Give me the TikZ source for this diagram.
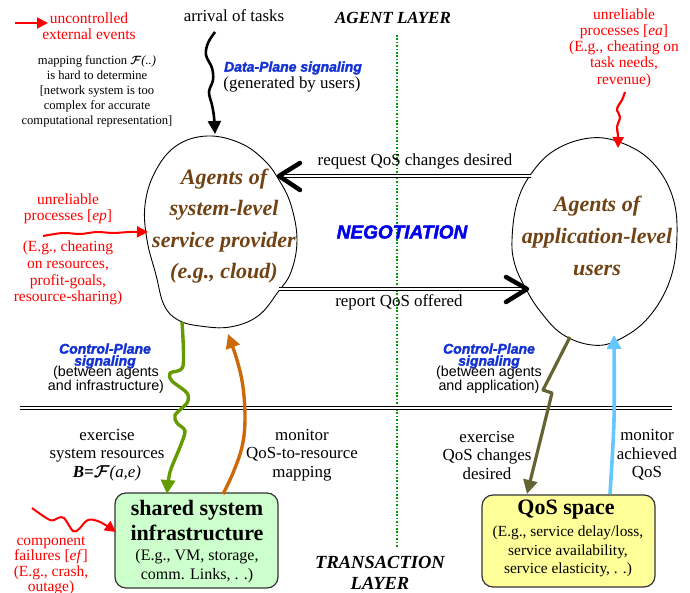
\documentclass[tikz,border=0pt]{standalone}
\usepackage{amsmath}
\usepackage{fontspec}
\setmainfont{Liberation Serif}
\setsansfont{Liberation Sans}
\newfontfamily\heavysans{Liberation Sans Bold Italic}[FakeBold=2]
\usetikzlibrary{arrows.meta}
\definecolor{agentbrown}{RGB}{112,66,20}
\definecolor{sigblue}{RGB}{20,50,210}
\definecolor{negblue}{RGB}{0,0,235}
\definecolor{ctlgreen}{RGB}{100,155,0}
\definecolor{monorange}{RGB}{205,105,10}
\definecolor{olivearrow}{RGB}{100,100,50}
\definecolor{skyarrow}{RGB}{100,200,255}
\definecolor{boxgreen}{RGB}{204,255,204}
\definecolor{boxyellow}{RGB}{255,255,153}
\definecolor{dotgreen}{RGB}{0,150,0}
\newcommand{\myfs}[2]{\fontsize{#1}{#2}\selectfont}
\newcommand{\scrF}{$\boldsymbol{\mathcal{F}}$}
\begin{document}
\begin{tikzpicture}[x=1pt,y=-1pt,
  lbl/.style={align=center,inner sep=0pt,font=\myfs{16.9}{18.5}},
  smalllbl/.style={align=center,inner sep=0pt,font=\myfs{12.6}{15}},
  redlbl/.style={align=center,inner sep=0pt,text=red,font=\myfs{15.5}{16.3}},
  agenttxt/.style={align=center,inner sep=0pt,text=agentbrown,font=\myfs{22}{31.5}\bfseries\itshape},
  layertxt/.style={align=center,inner sep=0pt,font=\myfs{18.5}{21}\bfseries\itshape},
  sigtitle/.style={align=center,inner sep=0pt,text=sigblue,font=\myfs{14}{12}\heavysans},
  sigsub/.style={align=center,inner sep=0pt,font=\myfs{14.3}{12}\sffamily},
  blob/.style={draw=black,line width=0.9pt},
  dbl/.style={draw=black,double=white,double distance=1.6pt,line width=1.1pt},
  chev/.style={draw=black,line width=4.5pt,line cap=round,line join=round},
  redarrow/.style={draw=red,line width=2pt,-{Triangle[length=11pt,width=11pt]}},
  boxstyle/.style={draw=black!80,line width=1.2pt,rounded corners=11pt,inner sep=0pt},
  boxtitle/.style={align=center,inner sep=0pt,font=\myfs{22}{25}\bfseries},
  boxsub/.style={align=center,inner sep=0pt,font=\myfs{16}{18.5}}
]
\useasboundingbox (0,0) rectangle (690,593);

% ---------------- layer separators ----------------
\coordinate (dotTop) at (397,35);
\coordinate (dotBot) at (397,548);
\draw[dotgreen,line width=1.6pt,dash pattern=on 1.6pt off 1.8pt] (dotTop) -- (dotBot);
\coordinate (sepL) at (20,408);
\coordinate (sepR) at (672,408);
\draw[dbl,line width=1pt] (sepL) -- (sepR);

% ---------------- top-left texts ----------------
\coordinate (ueA) at (15,23);
\coordinate (ueB) at (48,23);
\draw[redarrow] (ueA) -- (ueB);
\node[redlbl] (uncontrolled) at (89,26) {uncontrolled\\external events};
\node[smalllbl] (mapping) at (97,91) {mapping function \scrF\textit{(..)}\\is hard to determine\\{[network system is too}\\complex for accurate\\computational representation]};

\node[lbl,anchor=center] (arrival) at (234,16) {arrival of tasks};
\node[layertxt,font=\myfs{17}{20}\bfseries\itshape] (agentlayer) at (393,18) {AGENT LAYER};
\node[sigtitle] (dataplane) at (293,68) {Data-Plane signaling};
\node[lbl] (generated) at (292,84) {(generated by users)};

% ---------------- top-right red ----------------
\node[redlbl,font=\myfs{15.5}{16.2}] (ea) at (624,48) {unreliable\\processes [\textit{ea}]\\(E.g., cheating on\\task needs,\\revenue)};

% ---------------- blobs ----------------
\draw[blob] plot[smooth cycle,tension=0.65] coordinates {
 (207,136) (240,143) (264,160) (279,180) (291,205) (297,240) (291,272) (278,292)
 (258,316) (230,327) (200,326) (178,320) (164,305) (156,275) (147,240) (145,205)
 (155,172) (176,146)};
\node[agenttxt] (provider) at (224,226) {Agents of\\system-level\\service provider\\(e.g., cloud)};

\draw[blob] plot[smooth cycle,tension=0.65] coordinates {
 (512,240) (517,203) (531,174) (555,150) (590,138) (622,143) (652,162) (672,195)
 (677,235) (670,280) (648,318) (618,340) (592,345) (562,334) (540,311) (526,289)
 (515,265)};
\node[agenttxt,font=\myfs{22}{32}\bfseries\itshape] (users) at (597,236) {Agents of\\application-level\\users};

% ---------------- negotiation arrows ----------------
\coordinate (reqFrom) at (531,176);
\coordinate (reqTip) at (279,176);
\coordinate (reqA) at (300,163);
\coordinate (reqB) at (300,190);
\draw[dbl] (reqFrom) -- (reqTip);
\draw[chev] (reqA) -- (reqTip) -- (reqB);
\node[lbl] (reqlbl) at (415,161) {request QoS changes desired};

\coordinate (repFrom) at (279,289);
\coordinate (repTip) at (527,289);
\coordinate (repA) at (506,277);
\coordinate (repB) at (506,302);
\draw[dbl] (repFrom) -- (repTip);
\draw[chev] (repA) -- (repTip) -- (repB);
\node[lbl] (replbl) at (399,302) {report QoS offered};

\node[inner sep=0pt,text=negblue,font=\myfs{19}{22}\heavysans] (nego) at (402,232) {NEGOTIATION};

% ---------------- left red ----------------
\node[redlbl] (ep) at (68,209) {unreliable\\processes [\textit{ep}]};
\node[redlbl,font=\myfs{15.5}{16.7}] (epex) at (68,273) {(E.g., cheating\\on resources,\\profit-goals,\\resource-sharing)};

% ---------------- control plane labels ----------------
\node[sigtitle] (cpl) at (105,356) {Control-Plane\\signaling};
\node[sigsub] (cplsub) at (106,379.5) {(between agents\\and infrastructure)};
\node[sigtitle] (cpr) at (489,356) {Control-Plane\\signaling};
\node[sigsub] (cprsub) at (489,379.5) {(between agents\\and application)};

% ---------------- transaction layer labels ----------------
\node[lbl] (exsys) at (107,455) {exercise\\system resources\\\textbf{\textit{B=}}\scrF\textit{(a,e)}};
\node[lbl] (monmap) at (302,455) {monitor\\QoS-to-resource\\mapping};
\node[lbl] (exqos) at (487,455) {exercise\\QoS changes\\desired};
\node[lbl] (monach) at (647,455) {monitor\\achieved\\QoS};

\node[layertxt] (translayer) at (380,572.5) {TRANSACTION\\LAYER};

% ---------------- boxes ----------------
\node[boxstyle,fill=boxgreen,minimum width=163pt,minimum height=95pt] (infra) at (196.5,540.5) {};
\node[boxtitle] (infratitle) at (197,520) {shared system\\infrastructure};
\node[boxsub] (infrasub) at (197,566) {(E.g., VM, storage,\\comm. Links, . .)};

\node[boxstyle,fill=boxyellow,minimum width=173pt,minimum height=92pt] (qos) at (568.5,541) {};
\node[boxtitle] (qostitle) at (566,510) {QoS space};
\node[boxsub,font=\myfs{15.4}{18.7}] (qossub) at (568,551.5) {(E.g., service delay/loss,\\service availability,\\service elasticity, . .)};

% ---------------- bottom-left red ----------------
\node[redlbl,font=\myfs{15.5}{15.5}] (ef) at (51,566) {component\\failures [\textit{ef}]\\(E.g., crash,\\outage)};

% ---------------- wavy / signaling arrows ----------------
% arrival of tasks
\coordinate (arrS) at (215,32);
\coordinate (arrE) at (215,134);
\draw[black,line width=2.6pt,-{Triangle[length=13pt,width=13pt]}]
  plot[smooth,tension=0.6] coordinates {(arrS) (208,43) (206,55) (212,68) (213,80) (209,92) (212,105) (214,117) (arrE)};

% top-right red wavy
\coordinate (eaS) at (625,92);
\coordinate (eaE) at (618,148);
\draw[redarrow,line width=2.2pt] plot[smooth,tension=0.6] coordinates {(eaS) (622,100) (617,109) (620,117) (617,127) (618,135) (eaE)};

% left red wavy
\coordinate (epS) at (43,236);
\coordinate (epE) at (148,232);
\draw[redarrow] plot[smooth,tension=0.6] coordinates {(epS) (63,233) (80,234) (97,232) (113,233) (130,232) (epE)};

% bottom-left red wavy
\coordinate (efS) at (32,508);
\coordinate (efE) at (116,532);
\draw[redarrow] plot[smooth,tension=0.6] coordinates {(efS) (50,520) (58,518) (64,518) (73,531) (79,529) (88,520) (100,522) (efE)};

% green control arrow (provider -> infrastructure)
\coordinate (gS) at (182,322);
\coordinate (gE) at (167,494);
\draw[ctlgreen,line width=3.4pt,line join=round,-{Triangle[length=14pt,width=14pt]}]
  plot[smooth,tension=0.5] coordinates {(gS) (183,366) (170,373) (172,381) (187,393) (187,403) (175,415) (177,423) (185,431) (180,447) (170,472) (gE)};

% orange monitor arrow (infrastructure -> provider)
\coordinate (oS) at (223,494);
\coordinate (oE) at (228,334);
\draw[monorange,line width=3.4pt,-{Triangle[length=14pt,width=14pt]}]
  plot[smooth,tension=0.6] coordinates {(oS) (233,473) (242,447) (245,420) (243,387) (237,360) (oE)};

% olive control arrow (users -> QoS)
\coordinate (olS) at (570,337);
\coordinate (olE) at (527,494);
\draw[olivearrow,line width=3.2pt,line join=round,-{Triangle[length=14pt,width=14pt]}]
  (olS) -- (543,390) -- (552,393) -- (olE);

% sky blue monitor arrow (QoS -> users)
\coordinate (sbS) at (610,494);
\coordinate (sbE) at (614,335);
\draw[skyarrow,line width=3.6pt,-{Triangle[length=14pt,width=14pt]}]
  plot[smooth,tension=0.5] coordinates {(sbS) (614,420) (sbE)};

\end{tikzpicture}
\end{document}
